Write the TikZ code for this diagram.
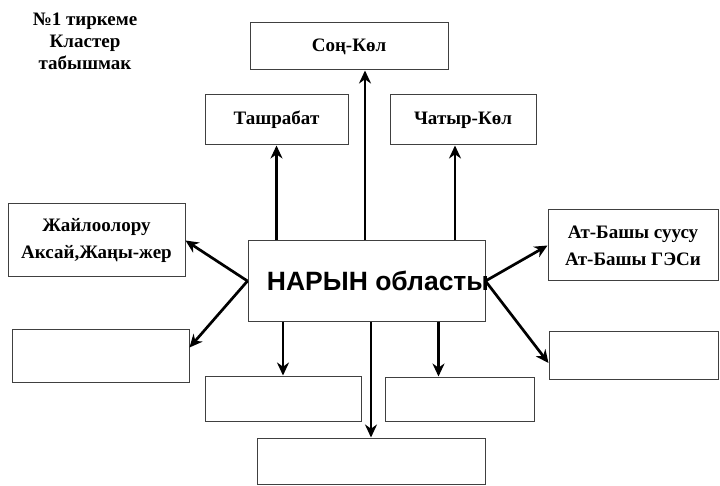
\documentclass[tikz,border=0pt]{standalone}
\usepackage{fontspec}
\setmainfont{Liberation Serif}
\setsansfont{Liberation Sans}
\usetikzlibrary{arrows.meta}

\begin{document}
\begin{tikzpicture}[x=1pt,y=-1pt,
  box/.style={draw=black!75, line width=1pt, inner sep=0pt, align=center,
    font=\bfseries\fontsize{19}{27}\selectfont},
  arr/.style={-{Stealth[length=13pt,width=12pt]}, line width=2.7pt}]
\useasboundingbox (0,0) rectangle (720,486);

% Title
\node[align=center, font=\bfseries\fontsize{19}{22}\selectfont] (title) at (85,41)
  {№1 тиркеме\\Кластер\\табышмак};

% Centre
\node[box, minimum width=237pt, minimum height=80pt,
  font=\sffamily\bfseries\fontsize{26.5}{30}\selectfont] (nar) at (366.5,281)
  {\makebox[0pt]{\hspace*{23pt}НАРЫН областы}};

% Top boxes
\node[box, minimum width=198pt, minimum height=47pt] (son) at (349,46.5) {Соң-Көл};
\node[box, minimum width=143pt, minimum height=50pt] (tash) at (276.5,120) {Ташрабат};
\node[box, minimum width=146pt, minimum height=50pt] (chat) at (463,120) {Чатыр-Көл};

% Side boxes
\node[box, minimum width=177pt, minimum height=73pt] (jail) at (96.5,240.5)
  {Жайлоолору\\Аксай,Жаңы-жер};
\node[box, minimum width=177pt, minimum height=53pt] (left) at (100.5,355.5) {};
\node[box, minimum width=170pt, minimum height=71pt] (atb) at (633,245.5)
  {Ат-Башы суусу\\Ат-Башы ГЭСи};
\node[box, minimum width=169pt, minimum height=48pt] (right) at (633.5,355) {};

% Bottom boxes
\node[box, minimum width=156pt, minimum height=45pt] (botl) at (283,398.5) {};
\node[box, minimum width=149pt, minimum height=44pt] (botr) at (459.5,399) {};
\node[box, minimum width=228pt, minimum height=46pt] (bot) at (371,461) {};

% Arrows
\draw[arr] (tash.south |- nar.north) -- (tash.south);
\draw[arr] ([xshift=16pt]son.south |- nar.north) -- ([xshift=16pt]son.south);
\draw[arr] ([xshift=-8pt]chat.south |- nar.north) -- ([xshift=-8pt]chat.south);
\draw[arr] (nar.west) -- (jail.east);
\draw[arr] (nar.west) -- ([yshift=8pt]left.east);
\draw[arr] (nar.east) -- (atb.west);
\draw[arr] (nar.east) -- ([yshift=-8pt]right.west);
\draw[arr] (botl.north |- nar.south) -- (botl.north);
\draw[arr] (bot.north |- nar.south) -- (bot.north);
\draw[arr] ([xshift=-21pt]botr.north |- nar.south) -- ([xshift=-21pt]botr.north);
\end{tikzpicture}
\end{document}
